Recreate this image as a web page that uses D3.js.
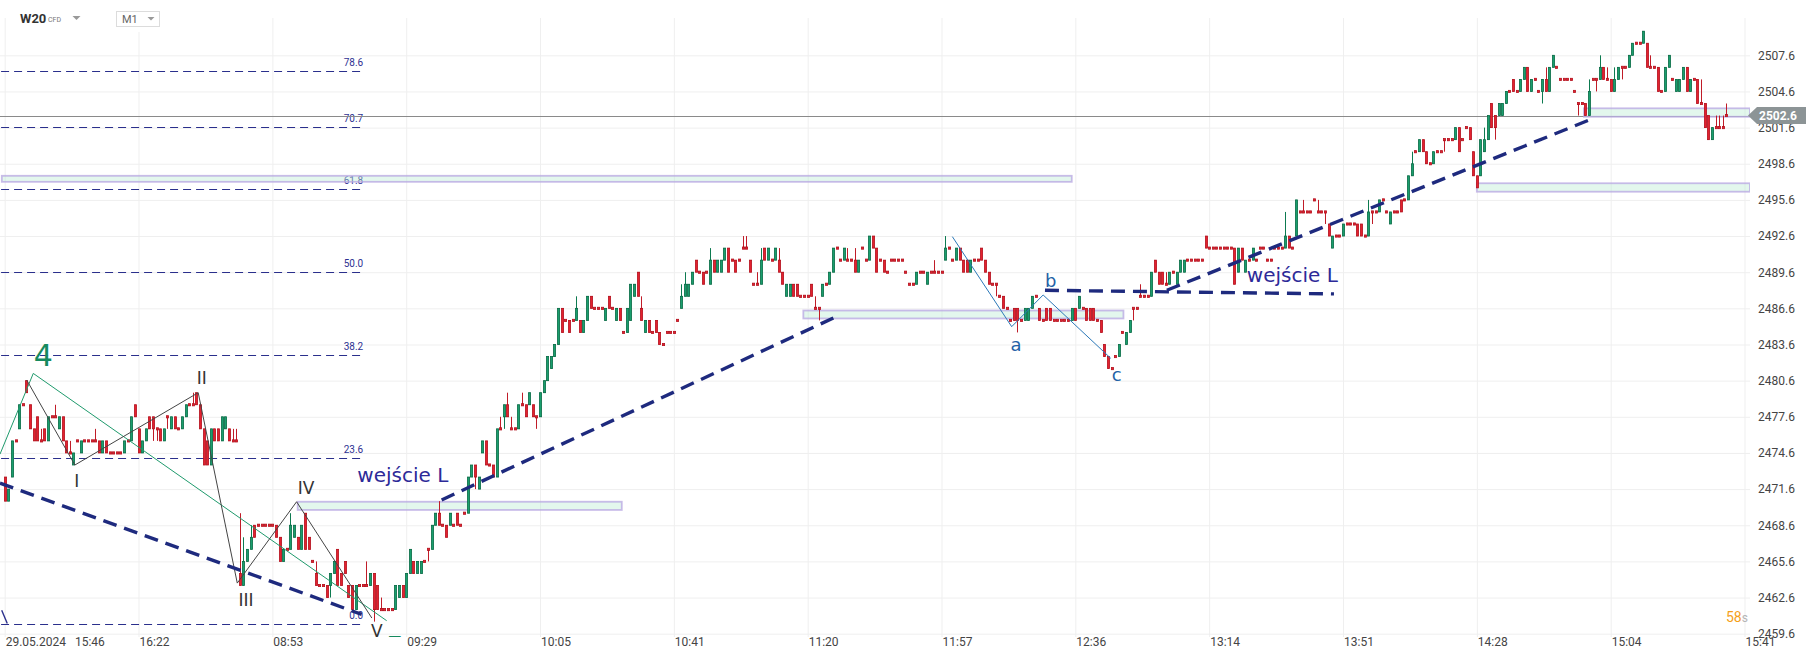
<!DOCTYPE html>
<html>
<head>
<meta charset="utf-8">
<script src="https://cdn.jsdelivr.net/npm/d3@7"></script>
<style>
  html, body { margin: 0; padding: 0; background: #fff; }
  svg { display: block; font-family: Roboto, "Noto Sans", sans-serif; }
</style>
</head>
<body>
<svg id="chart"></svg>
<script>
// W20 CFD, M1 candles: [open, high, low, close]
// 29.05 afternoon
const day1 = [
  [2472.6,2472.6,2470.6,2470.6],[2470.6,2471.6,2470.6,2471.6],[2472.6,2475.6,2472.6,2475.6],[2475.6,2475.6,2475.6,2475.6],
  [2476.6,2478.6,2476.6,2478.6],[2478.6,2478.6,2478.6,2478.6],[2480.6,2480.6,2479.6,2479.6],[2478.6,2478.6,2476.6,2476.6],
  [2476.6,2476.6,2475.6,2475.6],[2477.6,2477.6,2475.6,2475.6],[2475.6,2476.6,2475.6,2475.6],[2476.6,2476.6,2475.6,2475.6],
  [2475.6,2477.6,2475.6,2477.6],[2477.6,2477.6,2477.6,2477.6],[2477.6,2478.6,2477.6,2477.6],[2476.6,2477.6,2476.6,2477.6],
  [2477.6,2477.6,2475.6,2475.6],[2475.6,2475.6,2474.6,2474.6],[2474.6,2475.6,2474.6,2474.6],[2473.6,2474.6,2473.6,2474.6],
  [2475.6,2475.6,2475.6,2475.6],[2474.6,2475.6,2474.6,2475.6],[2475.6,2475.6,2475.6,2475.6],[2475.6,2475.6,2475.6,2475.6],
  [2475.6,2475.6,2475.6,2475.6],[2475.6,2476.6,2475.6,2475.6],[2475.6,2475.6,2474.6,2474.6],[2474.6,2475.6,2474.6,2475.6],
  [2475.6,2475.6,2474.6,2474.6],[2474.6,2474.6,2474.6,2474.6],[2474.6,2474.6,2474.6,2474.6],[2474.6,2474.6,2474.6,2474.6],
  [2474.6,2474.6,2474.6,2474.6],[2474.6,2475.6,2474.6,2475.6],[2475.6,2475.6,2475.6,2475.6],[2475.6,2477.6,2475.6,2477.6],
  [2478.6,2478.6,2477.6,2477.6],[2476.6,2476.6,2474.6,2474.6],[2474.6,2475.6,2474.6,2475.6],[2475.6,2476.6,2475.6,2476.6],
  [2477.6,2477.6,2476.6,2476.6],[2477.6,2477.6,2475.6,2476.6],[2476.6,2476.6,2475.6,2476.6],[2476.6,2476.6,2475.6,2475.6],
  [2475.6,2476.6,2475.6,2476.6],[2477.6,2477.6,2476.6,2477.6],[2476.6,2477.6,2476.6,2477.6],[2477.6,2477.6,2476.6,2476.6],
  [2476.6,2476.6,2476.6,2476.6],[2476.6,2477.6,2476.6,2477.6],[2477.6,2478.6,2477.6,2478.6],[2478.6,2478.6,2478.6,2478.6],
  [2478.6,2479.6,2478.6,2478.6],[2479.6,2479.6,2478.6,2478.6],[2478.6,2478.6,2476.6,2476.6],[2476.6,2476.6,2473.6,2473.6],
  [2475.6,2475.6,2473.6,2473.6],[2473.6,2476.6,2473.6,2476.6],[2476.6,2476.6,2475.6,2475.6],[2476.6,2476.6,2475.6,2475.6],
  [2475.6,2477.6,2475.6,2477.6],[2476.6,2477.6,2476.6,2477.6],[2476.6,2476.6,2475.6,2475.6],[2475.6,2476.6,2475.6,2475.6],
  [2475.6,2476.6,2475.6,2475.6]
];
// 30.05 open, the drop to V
const day2Open = [
  [2464.6,2469.6,2463.6,2463.6],[2463.6,2467.6,2463.6,2465.6],[2465.6,2466.6,2465.6,2466.6],[2466.6,2468.6,2466.6,2467.6],
  [2468.6,2468.6,2467.6,2467.6],[2468.6,2468.6,2468.6,2468.6],[2468.6,2468.6,2468.6,2468.6],[2468.6,2468.6,2468.6,2468.6],
  [2468.6,2468.6,2468.6,2468.6],[2468.6,2468.6,2468.6,2468.6],[2468.6,2468.6,2467.6,2467.6],[2467.6,2467.6,2465.6,2465.6],
  [2465.6,2466.6,2465.6,2466.6],[2466.6,2466.6,2466.6,2466.6],[2466.6,2469.6,2466.6,2468.6],[2467.6,2468.6,2467.6,2468.6],
  [2467.6,2467.6,2466.6,2466.6],[2466.6,2468.6,2466.6,2468.6],[2469.6,2469.6,2466.6,2466.6],[2467.6,2467.6,2466.6,2466.6],
  [2465.6,2465.6,2465.6,2465.6],[2464.6,2465.6,2463.6,2463.6],[2463.6,2463.6,2463.6,2463.6],[2463.6,2463.6,2463.6,2463.6],
  [2463.6,2463.6,2462.6,2462.6],[2463.6,2464.6,2462.6,2464.6],[2464.6,2465.6,2464.6,2465.6],[2466.6,2466.6,2463.6,2463.6],
  [2464.6,2464.6,2463.6,2463.6],[2465.6,2465.6,2464.6,2464.6],[2463.6,2463.6,2462.6,2462.6],[2463.6,2463.6,2461.6,2461.6],
  [2461.6,2463.6,2461.6,2463.6],[2463.6,2463.6,2463.6,2463.6],[2463.6,2463.6,2463.6,2463.6],[2463.6,2465.6,2463.6,2463.6],
  [2463.6,2464.6,2463.6,2464.6],[2464.6,2464.6,2460.6,2461.6],[2463.6,2463.6,2461.6,2461.6],[2461.6,2462.6,2461.6,2461.6],
  [2461.6,2461.6,2461.6,2461.6],[2461.6,2461.6,2461.6,2461.6],[2461.6,2461.6,2461.6,2461.6],[2461.6,2463.6,2461.6,2463.6],
  [2462.6,2463.6,2462.6,2463.6],[2463.6,2463.6,2462.6,2462.6],[2462.6,2464.6,2462.6,2464.6],[2464.6,2466.6,2464.6,2466.6],
  [2465.6,2465.6,2464.6,2464.6],[2464.6,2465.6,2464.6,2465.6],[2464.6,2465.6,2464.6,2465.6],[2465.6,2465.6,2465.6,2465.6],
  [2466.6,2466.6,2465.6,2466.6],[2466.6,2468.6,2466.6,2468.6],[2468.6,2469.6,2468.6,2469.6],[2469.6,2470.6,2468.6,2468.6]
];
// 30.05 rally into 11:20
const day2Morning = [
  [2468.6,2468.6,2468.6,2468.6],[2468.6,2468.6,2467.6,2467.6],[2468.6,2469.6,2468.6,2469.6],[2468.6,2468.6,2468.6,2468.6],
  [2469.6,2469.6,2468.6,2468.6],[2468.6,2468.6,2468.6,2468.6],[2469.6,2469.6,2469.6,2469.6],[2469.6,2472.6,2469.6,2472.6],
  [2472.6,2473.6,2472.6,2473.6],[2473.6,2473.6,2471.6,2472.6],[2471.6,2472.6,2471.6,2472.6],[2474.6,2475.6,2474.6,2475.6],
  [2475.6,2475.6,2473.6,2473.6],[2473.6,2473.6,2473.6,2473.6],[2473.6,2473.6,2472.6,2472.6],[2472.6,2476.6,2472.6,2476.6],
  [2476.6,2477.6,2476.6,2476.6],[2477.6,2478.6,2476.6,2478.6],[2478.6,2479.6,2477.6,2477.6],[2476.6,2477.6,2476.6,2476.6],
  [2476.6,2476.6,2476.6,2476.6],[2476.6,2478.6,2476.6,2478.6],[2478.6,2479.6,2478.6,2478.6],[2478.6,2478.6,2477.6,2477.6],
  [2478.6,2479.6,2478.6,2479.6],[2478.6,2478.6,2477.6,2477.6],[2477.6,2477.6,2476.6,2477.6],[2477.6,2479.6,2477.6,2479.6],
  [2479.6,2480.6,2479.6,2480.6],[2480.6,2482.6,2480.6,2482.6],[2481.6,2482.6,2481.6,2482.6],[2482.6,2483.6,2482.6,2483.6],
  [2483.6,2486.6,2483.6,2486.6],[2486.6,2486.6,2484.6,2484.6],[2485.6,2485.6,2485.6,2485.6],[2485.6,2485.6,2484.6,2484.6],
  [2485.6,2485.6,2485.6,2485.6],[2485.6,2487.6,2485.6,2486.6],[2485.6,2485.6,2484.6,2484.6],[2484.6,2485.6,2484.6,2485.6],
  [2485.6,2487.6,2485.6,2487.6],[2487.6,2487.6,2486.6,2486.6],[2486.6,2486.6,2486.6,2486.6],[2486.6,2486.6,2486.6,2486.6],
  [2486.6,2486.6,2486.6,2486.6],[2485.6,2486.6,2485.6,2486.6],[2487.6,2487.6,2486.6,2486.6],[2486.6,2486.6,2486.6,2486.6],
  [2485.6,2486.6,2485.6,2486.6],[2486.6,2486.6,2485.6,2485.6],[2484.6,2484.6,2484.6,2484.6],[2484.6,2486.6,2484.6,2486.6],
  [2485.6,2488.6,2485.6,2488.6],[2487.6,2488.6,2487.6,2488.6],[2489.6,2489.6,2487.6,2487.6],[2486.6,2487.6,2485.6,2485.6],
  [2484.6,2485.6,2484.6,2485.6],[2485.6,2485.6,2484.6,2484.6],[2484.6,2484.6,2484.6,2484.6],[2485.6,2485.6,2484.6,2484.6],
  [2484.6,2484.6,2483.6,2483.6],[2483.6,2483.6,2483.6,2483.6],[2484.6,2484.6,2484.6,2484.6],[2484.6,2484.6,2484.6,2484.6],
  [2484.6,2484.6,2484.6,2484.6],[2485.6,2485.6,2485.6,2485.6],[2486.6,2488.6,2486.6,2487.6],[2487.6,2489.6,2487.6,2488.6],
  [2487.6,2488.6,2487.6,2488.6],[2488.6,2489.6,2488.6,2489.6],[2490.6,2490.6,2489.6,2489.6],[2489.6,2489.6,2489.6,2489.6],
  [2489.6,2489.6,2488.6,2488.6],[2489.6,2489.6,2489.6,2489.6],[2488.6,2491.6,2488.6,2490.6],[2490.6,2490.6,2489.6,2489.6],
  [2489.6,2490.6,2489.6,2490.6],[2489.6,2490.6,2489.6,2490.6],[2490.6,2491.6,2490.6,2491.6],[2491.6,2491.6,2489.6,2489.6],
  [2490.6,2490.6,2490.6,2490.6],[2490.6,2490.6,2489.6,2489.6],[2490.6,2490.6,2490.6,2490.6],[2491.6,2492.6,2491.6,2491.6],
  [2491.6,2492.6,2491.6,2491.6],[2490.6,2490.6,2489.6,2489.6],[2488.6,2488.6,2488.6,2488.6],[2488.6,2489.6,2488.6,2488.6],
  [2488.6,2491.6,2488.6,2490.6],[2491.6,2491.6,2490.6,2490.6],[2490.6,2491.6,2490.6,2491.6],[2490.6,2490.6,2490.6,2490.6],
  [2490.6,2491.6,2490.6,2491.6],[2490.6,2491.6,2489.6,2489.6],[2489.6,2489.6,2488.6,2488.6],[2487.6,2488.6,2487.6,2488.6],
  [2487.6,2488.6,2487.6,2488.6],[2488.6,2488.6,2487.6,2487.6],[2488.6,2488.6,2487.6,2487.6],[2487.6,2487.6,2487.6,2487.6],
  [2487.6,2487.6,2487.6,2487.6],[2487.6,2487.6,2487.6,2487.6],[2488.6,2488.6,2487.6,2487.6],[2486.6,2487.6,2486.6,2486.6],
  [2486.6,2486.6,2485.6,2486.6],[2487.6,2488.6,2487.6,2488.6],[2488.6,2488.6,2488.6,2488.6],[2488.6,2489.6,2488.6,2489.6],
  [2489.6,2491.6,2489.6,2491.6],[2491.6,2491.6,2491.6,2491.6],[2490.6,2490.6,2490.6,2490.6],[2490.6,2491.6,2490.6,2491.6],
  [2490.6,2491.6,2490.6,2490.6],[2490.6,2490.6,2490.6,2490.6],[2490.6,2491.6,2489.6,2489.6],[2489.6,2490.6,2489.6,2490.6]
];
// 30.05 a-b-c correction
const day2Midday = [
  [2491.6,2491.6,2491.6,2491.6],[2490.6,2490.6,2490.6,2490.6],[2490.6,2492.6,2490.6,2492.6],[2492.6,2492.6,2491.6,2491.6],
  [2491.6,2491.6,2489.6,2489.6],[2490.6,2490.6,2490.6,2490.6],[2490.6,2490.6,2489.6,2489.6],[2489.6,2489.6,2489.6,2489.6],
  [2490.6,2490.6,2490.6,2490.6],[2490.6,2490.6,2490.6,2490.6],[2490.6,2490.6,2490.6,2490.6],[2490.6,2490.6,2490.6,2490.6],
  [2489.6,2489.6,2489.6,2489.6],[2488.6,2488.6,2488.6,2488.6],[2488.6,2488.6,2488.6,2488.6],[2488.6,2489.6,2488.6,2489.6],
  [2489.6,2489.6,2489.6,2489.6],[2489.6,2489.6,2489.6,2489.6],[2488.6,2489.6,2488.6,2489.6],[2489.6,2489.6,2489.6,2489.6],
  [2489.6,2490.6,2489.6,2489.6],[2489.6,2489.6,2489.6,2489.6],[2489.6,2489.6,2489.6,2489.6],[2490.6,2492.6,2490.6,2491.6],
  [2491.6,2491.6,2491.6,2491.6],[2490.6,2490.6,2490.6,2490.6],[2490.6,2491.6,2490.6,2491.6],[2491.6,2491.6,2490.6,2490.6],
  [2490.6,2490.6,2489.6,2489.6],[2490.6,2490.6,2489.6,2489.6],[2489.6,2490.6,2489.6,2490.6],[2490.6,2490.6,2490.6,2490.6],
  [2490.6,2490.6,2490.6,2490.6],[2491.6,2491.6,2490.6,2490.6],[2490.6,2490.6,2489.6,2489.6],[2489.6,2489.6,2488.6,2488.6],
  [2488.6,2488.6,2488.6,2488.6],[2488.6,2488.6,2487.6,2488.6],[2487.6,2487.6,2487.6,2487.6],[2487.6,2487.6,2486.6,2486.6],
  [2486.6,2486.6,2486.6,2486.6],[2485.6,2485.6,2485.6,2485.6],[2486.6,2486.6,2485.6,2485.6],[2486.6,2486.6,2484.6,2485.6],
  [2485.6,2485.6,2485.6,2485.6],[2485.6,2486.6,2485.6,2486.6],[2485.6,2486.6,2485.6,2486.6],[2486.6,2487.6,2486.6,2487.6],
  [2487.6,2487.6,2487.6,2487.6],[2486.6,2486.6,2485.6,2485.6],[2485.6,2485.6,2485.6,2485.6],[2486.6,2486.6,2485.6,2485.6],
  [2486.6,2486.6,2485.6,2485.6],[2485.6,2485.6,2485.6,2485.6],[2485.6,2485.6,2485.6,2485.6],[2485.6,2485.6,2485.6,2485.6],
  [2485.6,2485.6,2485.6,2485.6],[2485.6,2485.6,2485.6,2485.6],[2485.6,2486.6,2485.6,2486.6],[2486.6,2486.6,2485.6,2485.6],
  [2486.6,2487.6,2486.6,2487.6],[2486.6,2486.6,2486.6,2486.6],[2486.6,2486.6,2485.6,2485.6],[2486.6,2486.6,2485.6,2485.6],
  [2486.6,2486.6,2485.6,2485.6],[2485.6,2485.6,2485.6,2485.6],[2485.6,2485.6,2484.6,2484.6],[2483.6,2483.6,2482.6,2482.6],
  [2482.6,2482.6,2481.6,2481.6],[2481.6,2481.6,2481.6,2481.6],[2482.6,2482.6,2482.6,2482.6],[2482.6,2483.6,2482.6,2483.6],
  [2484.6,2484.6,2484.6,2484.6],[2483.6,2484.6,2483.6,2484.6],[2484.6,2485.6,2484.6,2485.6],[2486.6,2486.6,2485.6,2486.6],
  [2486.6,2486.6,2486.6,2486.6],[2487.6,2488.6,2487.6,2487.6],[2487.6,2487.6,2487.6,2487.6],[2487.6,2487.6,2487.6,2487.6],
  [2487.6,2489.6,2487.6,2489.6],[2490.6,2490.6,2489.6,2489.6],[2489.6,2489.6,2488.6,2488.6],[2489.6,2489.6,2488.6,2488.6],
  [2488.6,2489.6,2488.6,2488.6],[2488.6,2489.6,2488.6,2489.6],[2489.6,2489.6,2489.6,2489.6],[2488.6,2489.6,2488.6,2489.6],
  [2489.6,2490.6,2489.6,2490.6],[2489.6,2490.6,2489.6,2490.6],[2490.6,2490.6,2490.6,2490.6],[2490.6,2490.6,2490.6,2490.6],
  [2490.6,2490.6,2490.6,2490.6],[2490.6,2490.6,2490.6,2490.6],[2490.6,2490.6,2490.6,2490.6],[2492.6,2492.6,2491.6,2491.6],
  [2491.6,2491.6,2491.6,2491.6],[2491.6,2491.6,2491.6,2491.6],[2491.6,2491.6,2491.6,2491.6],[2491.6,2491.6,2491.6,2491.6],
  [2491.6,2491.6,2491.6,2491.6],[2491.6,2491.6,2491.6,2491.6],[2491.6,2491.6,2491.6,2491.6],[2491.6,2491.6,2488.6,2488.6],
  [2489.6,2491.6,2489.6,2491.6],[2491.6,2491.6,2490.6,2490.6],[2489.6,2490.6,2489.6,2490.6],[2490.6,2490.6,2490.6,2490.6],
  [2490.6,2491.6,2490.6,2491.6],[2490.6,2490.6,2490.6,2490.6],[2491.6,2491.6,2491.6,2491.6],[2491.6,2491.6,2491.6,2491.6],
  [2490.6,2490.6,2490.6,2490.6],[2490.6,2490.6,2490.6,2490.6],[2491.6,2491.6,2491.6,2491.6],[2491.6,2491.6,2491.6,2491.6],
  [2491.6,2491.6,2491.6,2491.6],[2491.6,2494.6,2491.6,2492.6],[2492.6,2492.6,2491.6,2491.6],[2491.6,2491.6,2491.6,2491.6]
];
// 30.05 afternoon up to 15:41
const day2Afternoon = [
  [2492.6,2495.6,2492.6,2495.6],[2494.6,2494.6,2494.6,2494.6],[2494.6,2495.6,2494.6,2494.6],[2494.6,2494.6,2494.6,2494.6],
  [2494.6,2494.6,2494.6,2494.6],[2495.6,2495.6,2495.6,2495.6],[2494.6,2495.6,2494.6,2494.6],[2494.6,2494.6,2494.6,2494.6],
  [2494.6,2494.6,2493.6,2494.6],[2493.6,2493.6,2492.6,2492.6],[2491.6,2492.6,2491.6,2492.6],[2492.6,2492.6,2492.6,2492.6],
  [2492.6,2492.6,2492.6,2492.6],[2492.6,2493.6,2492.6,2493.6],[2493.6,2493.6,2493.6,2493.6],[2493.6,2493.6,2493.6,2493.6],
  [2493.6,2493.6,2493.6,2493.6],[2493.6,2493.6,2492.6,2492.6],[2493.6,2493.6,2492.6,2492.6],[2492.6,2492.6,2492.6,2492.6],
  [2492.6,2495.6,2492.6,2494.6],[2494.6,2494.6,2493.6,2494.6],[2494.6,2494.6,2494.6,2494.6],[2494.6,2495.6,2494.6,2495.6],
  [2495.6,2495.6,2495.6,2495.6],[2494.6,2494.6,2494.6,2494.6],[2493.6,2494.6,2493.6,2494.6],[2494.6,2494.6,2494.6,2494.6],
  [2494.6,2494.6,2494.6,2494.6],[2495.6,2495.6,2494.6,2494.6],[2495.6,2495.6,2495.6,2495.6],[2495.6,2497.6,2495.6,2497.6],
  [2497.6,2499.6,2497.6,2498.6],[2499.6,2499.6,2499.6,2499.6],[2499.6,2500.6,2499.6,2500.6],[2500.6,2500.6,2499.6,2499.6],
  [2499.6,2499.6,2498.6,2498.6],[2498.6,2498.6,2498.6,2498.6],[2498.6,2499.6,2498.6,2499.6],[2499.6,2499.6,2499.6,2499.6],
  [2499.6,2499.6,2499.6,2499.6],[2500.6,2500.6,2499.6,2500.6],[2500.6,2500.6,2500.6,2500.6],[2500.6,2500.6,2500.6,2500.6],
  [2500.6,2501.6,2500.6,2501.6],[2501.6,2501.6,2499.6,2499.6],[2500.6,2500.6,2500.6,2500.6],[2501.6,2501.6,2501.6,2501.6],
  [2501.6,2501.6,2500.6,2500.6],[2499.6,2499.6,2497.6,2497.6],[2497.6,2497.6,2496.6,2496.6],[2497.6,2500.6,2497.6,2500.6],
  [2499.6,2501.6,2499.6,2500.6],[2500.6,2502.6,2500.6,2502.6],[2503.6,2503.6,2501.6,2501.6],[2502.6,2502.6,2500.6,2501.6],
  [2502.6,2503.6,2502.6,2503.6],[2502.6,2503.6,2502.6,2503.6],[2503.6,2504.6,2503.6,2504.6],[2504.6,2504.6,2504.6,2504.6],
  [2505.6,2505.6,2504.6,2504.6],[2504.6,2504.6,2504.6,2504.6],[2504.6,2505.6,2504.6,2505.6],[2505.6,2506.6,2505.6,2506.6],
  [2506.6,2506.6,2504.6,2504.6],[2504.6,2505.6,2504.6,2505.6],[2505.6,2505.6,2505.6,2505.6],[2504.6,2504.6,2504.6,2504.6],
  [2504.6,2505.6,2503.6,2505.6],[2505.6,2506.6,2504.6,2504.6],[2504.6,2506.6,2504.6,2506.6],[2506.6,2507.6,2506.6,2507.6],
  [2506.6,2506.6,2506.6,2506.6],[2505.6,2505.6,2505.6,2505.6],[2505.6,2505.6,2505.6,2505.6],[2505.6,2505.6,2505.6,2505.6],
  [2505.6,2505.6,2505.6,2505.6],[2504.6,2504.6,2504.6,2504.6],[2503.6,2503.6,2502.6,2503.6],[2503.6,2503.6,2503.6,2503.6],
  [2503.6,2503.6,2502.6,2502.6],[2502.6,2505.6,2502.6,2504.6],[2505.6,2505.6,2505.6,2505.6],[2505.6,2505.6,2504.6,2505.6],
  [2505.6,2507.6,2505.6,2506.6],[2506.6,2506.6,2505.6,2505.6],[2505.6,2506.6,2505.6,2505.6],[2505.6,2505.6,2504.6,2504.6],
  [2504.6,2506.6,2504.6,2505.6],[2505.6,2506.6,2505.6,2506.6],[2506.6,2506.6,2505.6,2506.6],[2506.6,2506.6,2506.6,2506.6],
  [2506.6,2507.6,2506.6,2507.6],[2507.6,2508.6,2507.6,2508.6],[2508.6,2508.6,2508.6,2508.6],[2508.6,2508.6,2508.6,2508.6],
  [2508.6,2509.6,2508.6,2509.6],[2508.6,2508.6,2506.6,2506.6],[2506.6,2507.6,2506.6,2506.6],[2506.6,2506.6,2506.6,2506.6],
  [2506.6,2506.6,2504.6,2504.6],[2504.6,2504.6,2504.6,2504.6],[2504.6,2506.6,2504.6,2506.6],[2506.6,2507.6,2506.6,2507.6],
  [2505.6,2505.6,2505.6,2505.6],[2504.6,2505.6,2504.6,2505.6],[2504.6,2505.6,2504.6,2505.6],[2505.6,2506.6,2505.6,2506.6],
  [2506.6,2506.6,2504.6,2504.6],[2504.6,2505.6,2504.6,2505.6],[2505.6,2505.6,2505.6,2505.6],[2505.6,2505.6,2503.6,2503.6],
  [2503.6,2505.6,2503.6,2503.6],[2503.6,2503.6,2501.6,2501.6],[2502.6,2502.6,2500.6,2500.6],[2500.6,2501.6,2500.6,2501.6],
  [2501.6,2502.6,2501.6,2501.6],[2501.6,2502.6,2501.6,2501.6],[2501.6,2502.6,2501.6,2501.6],[2502.6,2503.6,2502.6,2502.6]
];

const lastPrice = 2502.6;
const priceTicks = [2459.6,2462.6,2465.6,2468.6,2471.6,2474.6,2477.6,2480.6,2483.6,2486.6,2489.6,2492.6,2495.6,2498.6,2501.6,2504.6,2507.6];
const timeLabels = ["29.05.2024\u00a0\u00a0\u00a015:46","16:22","08:53","09:29","10:05","10:41","11:20","11:57","12:36","13:14","13:51","14:28","15:04","15:41"];
const timeTickBars = [0,37,74,111,148,185,222,259,296,333,370,407,444,481];

// fibonacci retracement: anchors (0 and 100) and the bar span it is drawn over
const fibLevels = [0, 23.6, 38.2, 50, 61.8, 70.7, 78.6];
const fibRange = [2460.4, 2518.8];
const fibBars = [-1, 99.1];

// drawn objects, in [bar, price]
const entryLines = [
  [[-1.3, 2472.1], [98.7, 2461.2]],
  [[120.8, 2470.7], [229.1, 2485.8]],
  [[287.6, 2488.1], [367.5, 2487.8]],
  [[321.3, 2488.1], [437.8, 2502.2]]
];
const zones = [ // [bar from, bar to, price top, price bottom]
  [-0.8, 295.0, 2497.6, 2497.1],
  [81.0, 170.6, 2470.55, 2469.87],
  [220.8, 309.3, 2486.42, 2485.76],
  [407.0, 482.5, 2496.98, 2496.28],
  [436.6, 482.5, 2503.2, 2502.5]
];
const waveImpulse = [[6.1, 2480.65], [19.4, 2473.6], [53.5, 2479.6], [64.3, 2463.8], [80.7, 2470.55], [101.5, 2460.9]];
const waveDegree = [[-1.3, 2474.5], [7.9, 2481.2], [105.6, 2460.68]];
const waveABC = [[262.0, 2492.55], [278.4, 2485.08], [287.1, 2487.71], [305.8, 2482.45]];
const stubLine = [[-0.83, 2461.55], [0.72, 2460.45]];

const labels = [ // text, bar, price (baseline), kind
  ["4", 10.7, 2481.8, "degree"],
  ["5", 108.0, 2457.6, "degree"],
  ["I", 19.9, 2471.8, "wave"],
  ["II", 54.5, 2480.3, "wave"],
  ["III", 66.7, 2461.9, "wave"],
  ["IV", 83.3, 2471.2, "wave"],
  ["V", 102.9, 2459.3, "wave"],
  ["a", 279.6, 2483.09, "abc"],
  ["b", 289.2, 2488.35, "abc"],
  ["c", 307.4, 2480.57, "abc"],
  ["wejście L", 97.5, 2472.21, "entry"],
  ["wejście L", 343.4, 2488.81, "entry"]
];

// ---------- layout ----------
const width = 1818, height = 660;
const plotRight = 1750, plotBottom = 637;

const x = d3.scaleLinear().domain([0, 481]).range([4.7, 1744.5]);
const y = d3.scaleLinear().domain([2459.6, 2507.6]).range([633.7, 55.3]);

const candles = [].concat(day1, day2Open, day2Morning, day2Midday, day2Afternoon)
  .map((d, i) => ({ i: i, o: d[0], h: d[1], l: d[2], c: d[3] }));

const svg = d3.select("#chart").attr("width", width).attr("height", height);

svg.append("defs").append("clipPath").attr("id", "plotClip")
  .append("rect").attr("x", 0).attr("y", 0).attr("width", plotRight).attr("height", plotBottom);

// grid
const gridY = svg.append("g")
  .attr("transform", `translate(${plotRight},0)`)
  .call(d3.axisLeft(y).tickValues(priceTicks).tickSize(plotRight).tickFormat(""));
gridY.select(".domain").remove();
gridY.selectAll("line").attr("stroke", "#efefef");

const gridX = svg.append("g")
  .attr("transform", `translate(0,${plotBottom})`)
  .call(d3.axisBottom(x).tickValues(timeTickBars).tickSize(-(plotBottom - 18)).tickFormat(""));
gridX.select(".domain").remove();
gridX.selectAll("line").attr("stroke", "#efefef");

// white patch behind the header
svg.append("rect").attr("x", 108).attr("y", 0).attr("width", 60).attr("height", 32).attr("fill", "#fff");

const plot = svg.append("g").attr("clip-path", "url(#plotClip)");
const line = d3.line().x(d => x(d[0])).y(d => y(d[1]));

// fibonacci levels
const fibPrice = lvl => fibRange[0] + (fibRange[1] - fibRange[0]) * lvl / 100;
plot.append("g").selectAll("line").data(fibLevels).join("line")
  .attr("x1", x(fibBars[0])).attr("x2", x(fibBars[1]))
  .attr("y1", d => Math.round(y(fibPrice(d))) + 0.5)
  .attr("y2", d => Math.round(y(fibPrice(d))) + 0.5)
  .attr("stroke", "#2a2f8c").attr("stroke-width", 1).attr("stroke-dasharray", "8,5");
plot.append("g").selectAll("text").data(fibLevels).join("text")
  .attr("x", x(fibBars[1])).attr("y", d => y(fibPrice(d)) - 5)
  .attr("text-anchor", "end").attr("font-size", 10).attr("fill", "#2e3192")
  .text(d => d.toFixed(1));

// last price line
plot.append("line")
  .attr("x1", 0).attr("x2", plotRight)
  .attr("y1", Math.round(y(lastPrice)) + 0.5).attr("y2", Math.round(y(lastPrice)) + 0.5)
  .attr("stroke", "#8a8a8a").attr("stroke-width", 1);

// zones (see-through, the 61.8 label shows under the first one)
plot.append("g").selectAll("rect").data(zones).join("rect")
  .attr("x", d => x(d[0])).attr("width", d => x(d[1]) - x(d[0]))
  .attr("y", d => y(d[2])).attr("height", d => y(d[3]) - y(d[2]))
  .attr("fill", "#b8ead2").attr("fill-opacity", 0.4)
  .attr("stroke", "#b7a6e2").attr("stroke-opacity", 0.75).attr("stroke-width", 1.8);

// candles
const up = d => d.c > d.o;
const cx = d => Math.round(x(d.i));
const gC = plot.append("g");
gC.selectAll("line").data(candles).join("line")
  .attr("x1", d => cx(d) + 0.5).attr("x2", d => cx(d) + 0.5)
  .attr("y1", d => y(d.h)).attr("y2", d => y(d.l))
  .attr("stroke", d => up(d) ? "#0d7a50" : "#c01c28").attr("stroke-width", 1);
gC.selectAll("rect").data(candles).join("rect")
  .attr("x", d => cx(d) - 0.6)
  .attr("width", 2.2)
  .attr("y", d => d.o === d.c ? y(d.c) - 1.1 : Math.min(y(d.o), y(d.c)))
  .attr("height", d => d.o === d.c ? 2.2 : Math.abs(y(d.o) - y(d.c)))
  .attr("fill", d => up(d) ? "#1a9e6e" : "#e3222f")
  .attr("stroke", d => up(d) ? "#0b6c47" : "#b3121e")
  .attr("stroke-width", 0.8);

// wave lines
plot.append("path").datum(waveDegree).attr("d", line)
  .attr("fill", "none").attr("stroke", "#1f9a6c").attr("stroke-width", 1);
plot.append("path").datum(waveImpulse).attr("d", line)
  .attr("fill", "none").attr("stroke", "#444").attr("stroke-width", 1);
plot.append("path").datum(waveABC).attr("d", line)
  .attr("fill", "none").attr("stroke", "#2b78b8").attr("stroke-width", 1);
plot.append("path").datum(stubLine).attr("d", line)
  .attr("fill", "none").attr("stroke", "#2a2f8c").attr("stroke-width", 1.4);

// entry trend lines
plot.append("g").selectAll("path").data(entryLines).join("path")
  .attr("d", line)
  .attr("fill", "none").attr("stroke", "#1e2a7e").attr("stroke-width", 3.4)
  .attr("stroke-dasharray", "14,8");

// labels
const labelStyle = {
  degree: { size: 30, fill: "#168a5e", anchor: "middle" },
  wave:   { size: 17, fill: "#333", anchor: "middle" },
  abc:    { size: 18, fill: "#1f62a6", anchor: "middle" },
  entry:  { size: 20, fill: "#2d2a98", anchor: "start" }
};
plot.append("g").selectAll("text").data(labels).join("text")
  .attr("x", d => x(d[1])).attr("y", d => y(d[2]))
  .attr("text-anchor", d => labelStyle[d[3]].anchor)
  .attr("font-family", "'DejaVu Sans', sans-serif")
  .attr("font-size", d => labelStyle[d[3]].size)
  .attr("fill", d => labelStyle[d[3]].fill)
  .text(d => d[0]);

// price axis
const yAxis = svg.append("g")
  .attr("transform", "translate(1758,0)")
  .call(d3.axisRight(y).tickValues(priceTicks).tickSize(0).tickPadding(0).tickFormat(d3.format(".1f")));
yAxis.select(".domain").remove();
yAxis.attr("font-family", "Roboto, sans-serif").attr("font-size", 12);
yAxis.selectAll("text").attr("fill", "#444");

// time axis
const xAxis = svg.append("g")
  .attr("transform", `translate(0,${y(2459.6)})`)
  .call(d3.axisBottom(x).tickValues(timeTickBars).tickSize(0).tickPadding(4)
    .tickFormat((d, i) => timeLabels[i]));
xAxis.select(".domain").remove();
xAxis.attr("font-family", "Roboto, sans-serif").attr("font-size", 12);
xAxis.selectAll("text").attr("fill", "#444").attr("text-anchor", "start").attr("dx", 0.5);

// last price tag
const ty = y(lastPrice);
svg.append("path")
  .attr("d", `M1748,${ty} L1757,${ty - 8.5} L1806,${ty - 8.5} L1806,${ty + 8.5} L1757,${ty + 8.5} Z`)
  .attr("fill", "#8c9496");
svg.append("text").attr("x", 1759).attr("y", ty).attr("dy", "0.35em")
  .attr("font-size", 12).attr("font-weight", "bold").attr("fill", "#fff")
  .text(lastPrice.toFixed(1));

// candle countdown
const cd = svg.append("text").attr("x", 1726).attr("y", 622).attr("font-size", 14);
cd.append("tspan").attr("fill", "#f5a01a").text("58");
cd.append("tspan").attr("fill", "#b5b5b5").attr("font-size", 12).text("s");

// header
svg.append("text").attr("x", 20).attr("y", 23).attr("font-size", 13).attr("font-weight", "bold")
  .attr("fill", "#333").text("W20");
svg.append("text").attr("x", 48).attr("y", 22).attr("font-size", 7).attr("fill", "#777").text("CFD");
svg.append("path").attr("d", "M72.5,16 L80.5,16 L76.5,20 Z").attr("fill", "#999");
svg.append("rect").attr("x", 116.5).attr("y", 11.5).attr("width", 43).attr("height", 15)
  .attr("fill", "#fff").attr("stroke", "#dcdcdc");
svg.append("text").attr("x", 122).attr("y", 23).attr("font-size", 11).attr("fill", "#666").text("M1");
svg.append("path").attr("d", "M147.5,17 L154.5,17 L151,20.5 Z").attr("fill", "#999");
</script>
</body>
</html>
